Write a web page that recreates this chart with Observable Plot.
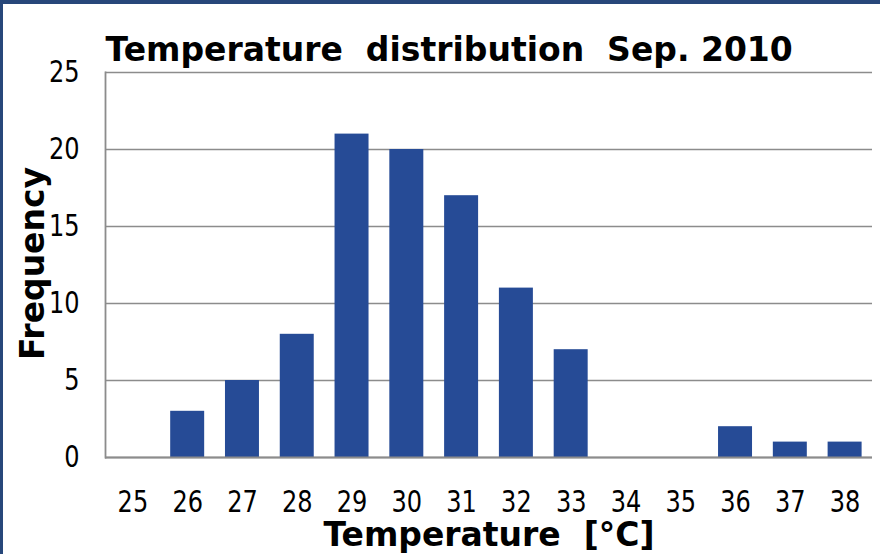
<!DOCTYPE html>
<html>
<head>
<meta charset="utf-8">
<script src="https://cdn.jsdelivr.net/npm/d3@7"></script>
<script src="https://cdn.jsdelivr.net/npm/@observablehq/plot@0.6"></script>
<style>
  html, body { margin: 0; padding: 0; background: #fff; }
  #chart { position: relative; width: 880px; height: 554px; background: #fff; overflow: hidden; }
  #chart svg { position: absolute; left: 0; top: 0; }
  .edge { position: absolute; background: #27477a; }
</style>
</head>
<body>
<div id="chart">
  <div class="edge" style="left:0;top:0;width:880px;height:4px"></div>
  <div class="edge" style="left:0;top:0;width:3px;height:554px"></div>
</div>
<script>
// Temperature bins (°C) and how many days fell into each
const temperatures = ["25", "26", "27", "28", "29", "30", "31", "32", "33", "34", "35", "36", "37", "38"];
const frequencies = [0, 3, 5, 8, 21, 20, 17, 11, 7, 0, 0, 2, 1, 1];
const yTicks = [0, 5, 10, 15, 20, 25];

const titleText = "Temperature  distribution  Sep. 2010";
const xLabel = "Temperature  [°C]";
const yLabel = "Frequency";

const rows = temperatures.map((t, i) => ({temperature: t, frequency: frequencies[i]}));

const gridColor = "#8c8c8c";
const barColor = "#264b96";

const chart = Plot.plot({
  width: 880,
  height: 554,
  marginLeft: 105,
  marginRight: 8,
  marginTop: 72,
  marginBottom: 97,
  style: {fontFamily: "'DejaVu Sans', sans-serif", fontSize: "30px", color: "#000", background: "transparent"},
  x: {type: "band", domain: temperatures, padding: 0, round: false},
  y: {domain: [0, 25]},
  marks: [
    Plot.gridY(yTicks, {stroke: gridColor, strokeOpacity: 1, strokeWidth: 1.6}),
    Plot.frame({anchor: "left", stroke: gridColor, strokeWidth: 1.8}),
    Plot.barY(rows, {x: "temperature", y: "frequency", fill: barColor, insetLeft: 10.4, insetRight: 10.4}),
    Plot.ruleY([0], {stroke: gridColor, strokeWidth: 1.8}),
    Plot.axisY(yTicks, {tickSize: 0, tickPadding: 26, label: null, fontSize: 30}),
    Plot.axisX({tickSize: 0, tickPadding: 33, label: null, fontSize: 30}),
    Plot.text([titleText], {
      frameAnchor: "top-left", textAnchor: "start", lineAnchor: "middle",
      dy: -21.6, fontSize: 33, fontWeight: "bold"
    }),
    Plot.text([xLabel], {
      frameAnchor: "bottom", textAnchor: "middle", lineAnchor: "middle",
      dy: 78.4, fontSize: 33, fontWeight: "bold"
    }),
    Plot.text([yLabel], {
      frameAnchor: "left", textAnchor: "middle", lineAnchor: "middle",
      rotate: -90, dx: -72, dy: -1.5, fontSize: 33, fontWeight: "bold"
    })
  ]
});

const container = document.getElementById("chart");
container.insertBefore(chart, container.firstChild);

// The tick numerals are set in a narrow face: squeeze them horizontally.
function condense(root, factor) {
  root.querySelectorAll("g[aria-label='x-axis tick label'] text, g[aria-label='y-axis tick label'] text")
    .forEach((t) => {
      const w = t.getComputedTextLength();
      t.setAttribute("textLength", (w * factor).toFixed(1));
      t.setAttribute("lengthAdjust", "spacingAndGlyphs");
    });
}
condense(chart, 0.8);
</script>
</body>
</html>
